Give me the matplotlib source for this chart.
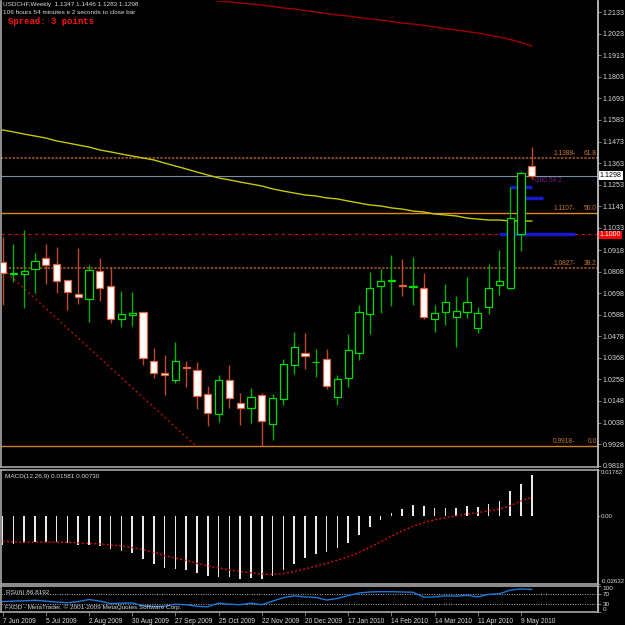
import matplotlib
matplotlib.use("Agg")
import matplotlib.pyplot as plt
import matplotlib.transforms as mtransforms
import numpy as np

# ---------------- data ----------------
symbol_text = "USDCHF,Weekly  1.1347 1.1446 1.1283 1.1298"
timer_text = "106 hours 54 minutes e 2 seconds to close bar"
spread_text = "Spread: 3 points"

date_labels = ["7 Jun 2009", "5 Jul 2009", "2 Aug 2009", "30 Aug 2009", "27 Sep 2009",
               "25 Oct 2009", "22 Nov 2009", "20 Dec 2009", "17 Jan 2010", "14 Feb 2010",
               "14 Mar 2010", "11 Apr 2010", "9 May 2010"]
date_label_idx = [0, 4, 8, 12, 16, 20, 24, 28, 32, 36, 40, 44, 48]

opens = [1.0856, 1.0798, 1.0795, 1.0820, 1.0877, 1.0846, 1.0766, 1.0693, 1.0669, 1.0812,
         1.0735, 1.0568, 1.0586, 1.0602, 1.0352, 1.0291, 1.0257, 1.0323, 1.0308, 1.0184,
         1.0083, 1.0255, 1.0139, 1.0114, 1.0177, 1.0030, 1.0157, 1.0333, 1.0392, 1.0345,
         1.0362, 1.0168, 1.0267, 1.0392, 1.0594, 1.0737, 1.0761, 1.0741, 1.0732, 1.0725,
         1.0565, 1.0604, 1.0578, 1.0604, 1.0519, 1.0626, 1.0742, 1.0727, 1.0999, 1.1347]
highs = [1.0985, 1.0950, 1.1021, 1.0905, 1.0950, 1.0933, 1.0768, 1.0928, 1.0842, 1.0878,
         1.0831, 1.0710, 1.0703, 1.0604, 1.0417, 1.0383, 1.0448, 1.0352, 1.0347, 1.0224,
         1.0282, 1.0332, 1.0189, 1.0214, 1.0190, 1.0184, 1.0361, 1.0500, 1.0497, 1.0413,
         1.0413, 1.0281, 1.0490, 1.0638, 1.0808, 1.0822, 1.0894, 1.0873, 1.0882, 1.0800,
         1.0638, 1.0745, 1.0684, 1.0781, 1.0628, 1.0848, 1.0919, 1.1242, 1.1324, 1.1446]
lows = [1.0638, 1.0756, 1.0624, 1.0698, 1.0744, 1.0698, 1.0613, 1.0645, 1.0553, 1.0660,
        1.0545, 1.0524, 1.0532, 1.0332, 1.0267, 1.0179, 1.0240, 1.0219, 1.0107, 1.0022,
        1.0042, 1.0114, 1.0025, 1.0037, 0.9918, 0.9950, 1.0126, 1.0284, 1.0311, 1.0272,
        1.0208, 1.0128, 1.0219, 1.0357, 1.0489, 1.0599, 1.0635, 1.0684, 1.0640, 1.0568,
        1.0499, 1.0538, 1.0425, 1.0572, 1.0497, 1.0592, 1.0691, 1.0720, 1.0916, 1.1283]
closes = [1.0803, 1.0802, 1.0810, 1.0863, 1.0841, 1.0762, 1.0703, 1.0679, 1.0817, 1.0725,
          1.0565, 1.0591, 1.0597, 1.0366, 1.0292, 1.0282, 1.0351, 1.0316, 1.0175, 1.0085,
          1.0254, 1.0165, 1.0111, 1.0168, 1.0044, 1.0163, 1.0335, 1.0422, 1.0380, 1.0348,
          1.0223, 1.0259, 1.0408, 1.0601, 1.0723, 1.0761, 1.0764, 1.0737, 1.0736, 1.0575,
          1.0597, 1.0654, 1.0608, 1.0652, 1.0597, 1.0725, 1.0759, 1.1081, 1.1311, 1.1298]

ma_yellow = [1.1532, 1.1522, 1.1511, 1.1501, 1.1491, 1.1476, 1.1466, 1.1455, 1.1445, 1.1430,
             1.1420, 1.1409, 1.1399, 1.1389, 1.1379, 1.1363, 1.1348, 1.1333, 1.1317, 1.1302,
             1.1287, 1.1277, 1.1266, 1.1256, 1.1246, 1.1231, 1.1220, 1.1210, 1.1200, 1.1195,
             1.1185, 1.1180, 1.1169, 1.1159, 1.1149, 1.1144, 1.1134, 1.1128, 1.1118, 1.1113,
             1.1103, 1.1098, 1.1093, 1.1082, 1.1077, 1.1072, 1.1072, 1.1067, 1.1067, 1.1067]
ma_red_idx = list(range(19, 50))
ma_red = [1.2201, 1.2191, 1.2186, 1.2180, 1.2175, 1.2170, 1.2163, 1.2155, 1.2150, 1.2142,
          1.2135, 1.2127, 1.2119, 1.2114, 1.2106, 1.2099, 1.2094, 1.2086, 1.2078, 1.2073,
          1.2066, 1.2058, 1.2050, 1.2043, 1.2035, 1.2027, 1.2017, 1.2007, 1.1994, 1.1979,
          1.1961]

macd_main = [-0.0111, -0.0109, -0.0106, -0.0101, -0.0100, -0.0101, -0.0106, -0.0112, -0.0111, -0.0115,
             -0.0127, -0.0136, -0.0143, -0.0166, -0.0184, -0.0201, -0.0205, -0.0210, -0.0221, -0.0232,
             -0.0235, -0.0238, -0.0242, -0.0240, -0.0242, -0.0231, -0.0210, -0.0184, -0.0164, -0.0148,
             -0.0138, -0.0124, -0.0103, -0.0074, -0.0041, -0.0014, 0.0010, 0.0028, 0.0042, 0.0038,
             0.0033, 0.0033, 0.0033, 0.0038, 0.0036, 0.0048, 0.0060, 0.0095, 0.0125, 0.01581]
macd_signal = [-0.0097, -0.0100, -0.0101, -0.0101, -0.0101, -0.0101, -0.0102, -0.0104, -0.0106, -0.0108,
               -0.0112, -0.0116, -0.0122, -0.0130, -0.0141, -0.0153, -0.0163, -0.0172, -0.0183, -0.0193,
               -0.0201, -0.0208, -0.0215, -0.0220, -0.0225, -0.0226, -0.0223, -0.0215, -0.0205, -0.0194,
               -0.0183, -0.0171, -0.0158, -0.0141, -0.0121, -0.0100, -0.0078, -0.0058, -0.0040, -0.0025,
               -0.0015, -0.0006, 0.0001, 0.0008, 0.0013, 0.0020, 0.0027, 0.0040, 0.0058, 0.0073]
macd_scale_max = 0.01782
macd_scale_min = -0.02632
macd_label_ticks = [0.01782, 0.0, -0.02632]
macd_label_text = ["0.01782", "0.00", "-0.02632"]

rsi = [40, 42, 43, 45, 42, 38, 36, 40, 48, 42, 32, 34, 35, 24, 22, 22, 30, 28, 22, 20,
       34, 30, 28, 34, 28, 42, 55, 62, 58, 56, 46, 52, 63, 73, 77, 78, 78, 77, 76, 57,
       58, 62, 61, 64, 58, 68, 70, 84, 89, 86.8192]
rsi_levels = [70, 30]
rsi_ticks = [100, 70, 30, 0]

price_ticks = [1.2133, 1.2023, 1.1913, 1.1803, 1.1693, 1.1583, 1.1473, 1.1363, 1.1253, 1.1143,
               1.1033, 1.0918, 1.0808, 1.0698, 1.0588, 1.0478, 1.0368, 1.0258, 1.0148, 1.0038,
               0.9928, 0.9818]
fib_prices = [1.1388, 1.1107, 1.0827, 0.9918]
fib_names = ["61.8", "50.0", "38.2", "0.0"]
fib_text = ["1.1388-", "1.1107-", "1.0827-", "0.9918-"]
bid_price = 1.1298
hline_price = 1.1000
trend_idx = [0.4, 17.8]
trend_price = [1.0803, 0.9923]
blue_seg_start = [47, 48, 46]
blue_seg_end = [49, 50, 53]
blue_seg_price = [1.1242, 1.1183, 1.0999]
note_text = "<100.54.2"
note_price = 1.1274

# ---------------- layout helpers ----------------
W = H = 625
fig = plt.figure(figsize=(W / 100, H / 100), dpi=100, facecolor="black")
FONT = "Liberation Sans"
TXT = "#d8d8d8"
FRAME = "#a8a8a8"


def box(l, t, r, b):
    return [l / W, 1 - b / H, (r - l) / W, (b - t) / H]


PXB = 10.8
x0 = -(2.6 - 1) / PXB
xlim = (x0, x0 + 597 / PXB)


def price_at(y):
    return 1.2133 - (y - 12.3) / 1958.0


def style(ax, lsize=5.1, tlen=2.5, pad=1.0):
    ax.set_facecolor("black")
    for s in ax.spines.values():
        s.set_color(FRAME)
        s.set_linewidth(1.2)
    ax.spines["right"].set_color("#d0d0d0")
    ax.set_xlim(*xlim)
    ax.yaxis.tick_right()
    ax.tick_params(axis="y", colors="#909090", labelcolor=TXT, labelsize=lsize,
                   length=tlen, width=0.6, pad=pad)


# ---------------- main price panel ----------------
ax = fig.add_axes(box(1, 1, 598, 467))
style(ax)
ax.spines["top"].set_visible(False)
ax.set_ylim(price_at(467), price_at(1))
ax.set_xticks([])
ax.set_yticks(price_ticks)
ax.set_yticklabels([f"{p:.4f}" for p in price_ticks], fontfamily=FONT)

idx = np.arange(len(opens))
o = np.array(opens); c = np.array(closes); hi = np.array(highs); lo = np.array(lows)
bull = c >= o

# fib / horizontal levels
fib_style = {"61.8": ("#8a4a1c", (0, (1.2, 0.8)), 1.4), "38.2": ("#8a4a1c", (0, (1.2, 0.8)), 1.4),
             "50.0": ("#e08a1e", "-", 1.0), "0.0": ("#d08020", "-", 1.0)}
trx = mtransforms.blended_transform_factory(ax.transAxes, ax.transData)
for p, name, t in zip(fib_prices, fib_names, fib_text):
    col, ls, lw = fib_style[name]
    ax.axhline(p, color=col, ls=ls, lw=lw, zorder=1)
    ax.text(0.925, p + 0.0004, t, transform=trx, color="#c87830", fontsize=4.8,
            fontfamily=FONT, ha="left", va="bottom")
    ax.text(0.998, p + 0.0004, name, transform=trx, color="#c87830", fontsize=4.8,
            fontfamily=FONT, ha="right", va="bottom")

ax.axhline(bid_price, color="#7890a0", lw=0.8, zorder=1)
ax.axhline(hline_price, color="#d01010", lw=0.8, ls=(0, (3, 3)), zorder=1)

# moving averages
ax.plot(idx, ma_yellow, color="#c8c800", lw=1.0, zorder=2)
ax.plot(ma_red_idx, ma_red, color="#a00000", lw=1.0, zorder=2)

# trend line
ax.plot(trend_idx, trend_price, color="#b01010", lw=1.0, ls=(0, (1.5, 2)), zorder=2)

# blue segments
for s, e, p in zip(blue_seg_start, blue_seg_end, blue_seg_price):
    ax.hlines(p, s, e, color="#1818c8", lw=2.5, zorder=2)

# candles
bw = 0.65
for i in idx:
    if bull[i]:
        wick, face, edge = "#00b000", "black", "#00e000"
    else:
        wick, face, edge = "#c04828", "white", "#e06040"
    ax.vlines(i, lo[i], hi[i], color=wick, lw=1.0, zorder=3)
    h = c[i] - o[i]
    if abs(h) < 0.00025:
        ax.hlines((o[i] + c[i]) / 2, i - bw / 2, i + bw / 2, color=edge, lw=1.6, zorder=4)
    else:
        ax.bar(i, h, bottom=o[i], width=bw, color=face, edgecolor=edge, lw=0.9, zorder=4)

ax.text(49.1, note_price, note_text, color="#7a1a8a", fontsize=4.8, fontfamily=FONT,
        ha="left", va="center", zorder=5)

# price labels on the axis
ax.text(1.003, bid_price, f"{bid_price:.4f}", transform=trx, color="black", fontsize=5.1,
        fontfamily=FONT, ha="left", va="center", zorder=6, clip_on=False,
        bbox=dict(boxstyle="square,pad=0.15", fc="white", ec="none"))
ax.text(1.003, hline_price - 0.0004, f"{hline_price:.4f}", transform=trx, color="white", fontsize=5.0,
        fontfamily=FONT, ha="left", va="center", zorder=6, clip_on=False,
        bbox=dict(boxstyle="square,pad=0.12", fc="#ff0000", ec="none"))

# top-left texts
fig.text(3 / W, 1 - 2 / H, symbol_text, color=TXT, fontsize=4.6, fontfamily=FONT, ha="left", va="top")
fig.text(3 / W, 1 - 10.5 / H, timer_text, color=TXT, fontsize=4.6, fontfamily=FONT, ha="left", va="top")
fig.text(8 / W, 1 - 17 / H, spread_text, color="#ff1010", fontsize=6.4, fontfamily="Liberation Mono",
         fontweight="bold", ha="left", va="top")

# ---------------- MACD panel ----------------
ax2 = fig.add_axes(box(1, 470, 598, 584))
style(ax2, 4.4, 1.5, 0.6)
ax2.set_ylim(macd_scale_min, macd_scale_max)
ax2.set_xticks([])
ax2.bar(idx, macd_main, width=0.14, color="#e8e8e8", zorder=2)
ax2.plot(idx, macd_signal, color="#d01010", lw=1.0, ls=(0, (1.5, 1.5)), zorder=3)
ax2.set_yticks(macd_label_ticks)
ax2.set_yticklabels(macd_label_text, fontfamily=FONT)
mlabs = ax2.get_yticklabels()
mlabs[0].set_va("top")
mlabs[-1].set_va("bottom")
ax2.text(0.006, 0.965, f"MACD(12,26,9) {macd_main[-1]:.5f} {macd_signal[-1]:.5f}", transform=ax2.transAxes,
         color=TXT, fontsize=4.6, fontfamily=FONT, ha="left", va="top")

# ---------------- RSI panel ----------------
ax3 = fig.add_axes(box(1, 586, 598, 612))
style(ax3, 4.6)
ax3.set_ylim(0, 100)
for lv in rsi_levels:
    ax3.axhline(lv, color="#b0b0b0", lw=0.7, ls=(0, (1, 1.5)), zorder=1)
ax3.plot(idx, rsi, color="#1e78d8", lw=1.0, zorder=2)
ax3.set_yticks(rsi_ticks)
ax3.set_yticklabels([str(v) for v in rsi_ticks], fontfamily=FONT)
rlabs = ax3.get_yticklabels()
rlabs[0].set_va("top")
rlabs[-1].set_va("bottom")
ax3.text(0.008, 0.75, f"RSI(6) {rsi[-1]:.4f}", transform=ax3.transAxes, color=TXT,
         fontsize=4.6, fontfamily=FONT, ha="left", va="center")
ax3.text(0.006, 0.2, "FXDD - MetaTrader, \u00a9 2001-2009 MetaQuotes Software Corp.", transform=ax3.transAxes,
         color=TXT, fontsize=4.6, fontfamily=FONT, ha="left", va="center")
ax3.set_xticks(date_label_idx)
ax3.set_xticklabels(date_labels, fontfamily=FONT, ha="left")
ax3.tick_params(axis="x", colors="#909090", labelcolor=TXT, labelsize=4.8, length=3, width=0.6, pad=1.0)

fig.savefig("out.png", dpi=100, facecolor="black")
